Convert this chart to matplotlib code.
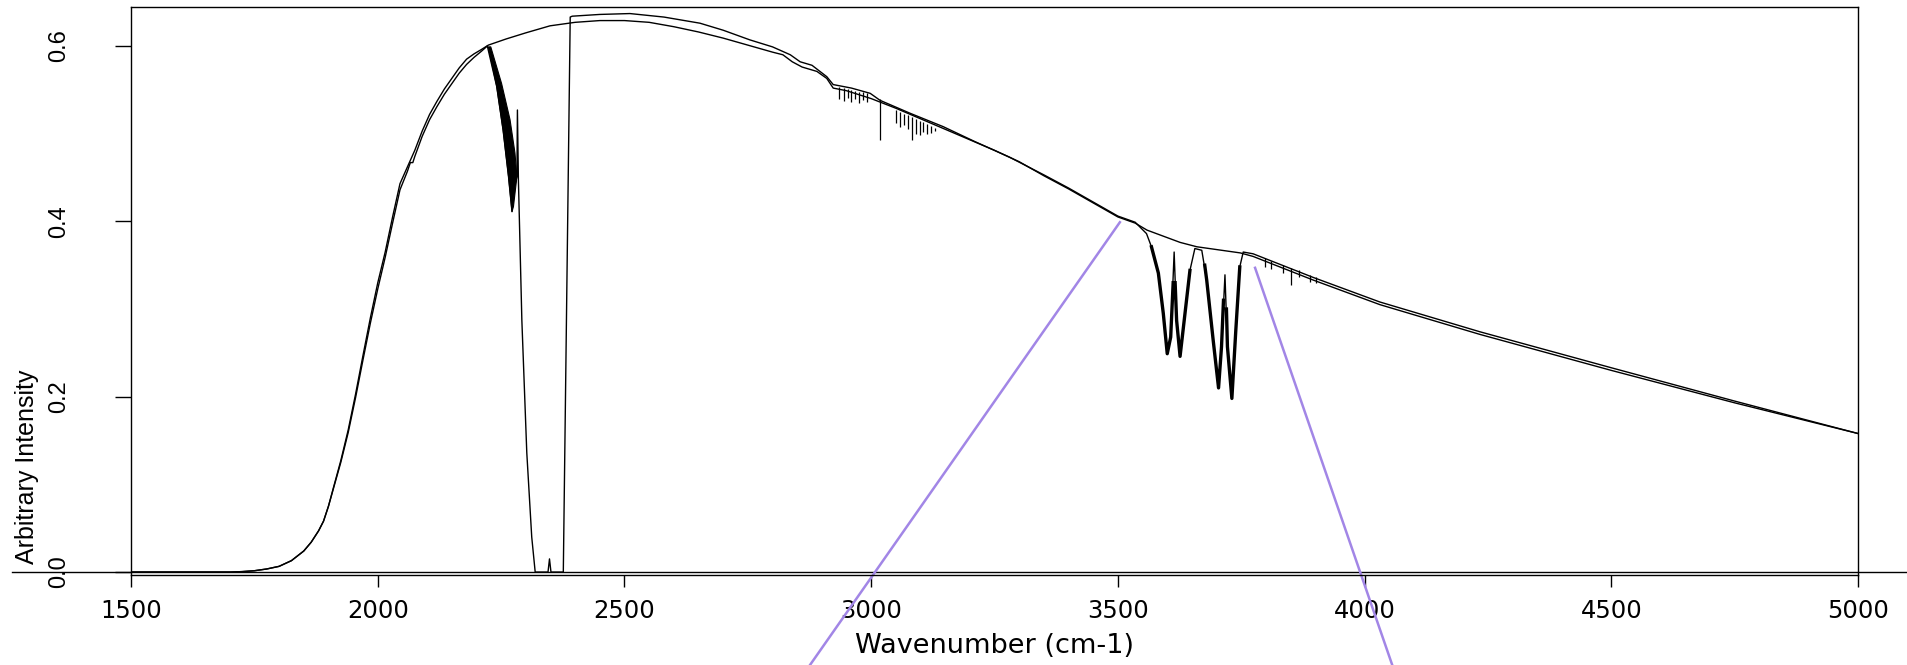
import numpy as np
import matplotlib
matplotlib.use('Agg')
import matplotlib.pyplot as plt

# smooth reference spectrum (no absorption)
ref_wn = [1500, 1700, 1725, 1750, 1775, 1800, 1825, 1850, 1865, 1880, 1890, 1900, 1910, 1925,
          1940, 1955, 1970, 1985, 2000, 2015, 2030, 2045, 2060, 2075, 2090, 2105,
          2120, 2135, 2150, 2165, 2180, 2195, 2210, 2224, 2260, 2300, 2349,
          2400, 2450, 2500, 2550, 2600, 2650, 2700, 2750, 2800, 2821, 2840, 2860,
          2890, 2910, 2923, 2950, 3000, 3050, 3100, 3150, 3200, 3250, 3300, 3350,
          3400, 3450, 3500, 3535, 3559, 3626, 3660, 3748, 3774, 3896, 4031, 4234,
          4500, 4750, 5000]
ref_int = [0.0, 0.0, 0.0005, 0.0015, 0.0035, 0.0065, 0.013, 0.024, 0.034, 0.047, 0.058, 0.075, 0.096, 0.127,
           0.162, 0.203, 0.247, 0.290, 0.330, 0.365, 0.405, 0.443, 0.462, 0.481, 0.503, 0.522,
           0.537, 0.551, 0.563, 0.575, 0.585, 0.591, 0.596, 0.601, 0.608, 0.615, 0.623,
           0.627, 0.629, 0.629, 0.627, 0.622, 0.616, 0.609, 0.601, 0.593, 0.590, 0.582, 0.576,
           0.571, 0.563, 0.552, 0.549, 0.540, 0.529, 0.517, 0.505, 0.493, 0.481, 0.468, 0.452,
           0.437, 0.421, 0.405, 0.398, 0.390, 0.376, 0.371, 0.364, 0.360, 0.333, 0.305, 0.271,
           0.230, 0.193, 0.158]

# measured spectrum
meas_wn = [1500, 1700, 1725, 1750, 1775, 1800, 1825, 1850, 1865, 1880, 1890, 1900, 1910, 1925,
           1940, 1955, 1970, 1985, 2000, 2015, 2030, 2045, 2060, 2066, 2071, 2075, 2090,
           2105, 2120, 2135, 2150, 2165, 2180, 2195, 2210, 2222,
           2241, 2254, 2265, 2272, 2277, 2282, 2283, 2285, 2292, 2302, 2312, 2319,
           2345, 2348, 2351, 2376, 2390, 2394, 2450, 2511, 2580, 2653, 2700, 2754,
           2800, 2836, 2856, 2880, 2910, 2923, 2960, 2998, 3018, 3080, 3146, 3210,
           3281, 3350, 3400, 3500, 3535, 3558,
           3568, 3582, 3592, 3600, 3607, 3614, 3619, 3626, 3636, 3646, 3656, 3670,
           3680, 3693, 3704, 3710, 3717, 3722, 3731, 3739, 3747, 3754,
           3774, 3896, 4031, 4234, 4500, 4750, 5000]
meas_int = [0.0, 0.0, 0.0005, 0.0015, 0.0035, 0.0065, 0.013, 0.024, 0.034, 0.047, 0.058, 0.075, 0.095, 0.125,
            0.159, 0.199, 0.242, 0.284, 0.323, 0.359, 0.398, 0.436, 0.457, 0.467, 0.467, 0.474, 0.497,
            0.516, 0.531, 0.545, 0.557, 0.569, 0.579, 0.587, 0.594, 0.600,
            0.554, 0.504, 0.451, 0.411, 0.440, 0.451, 0.527, 0.447, 0.287, 0.136, 0.040, 0.0,
            0.0, 0.015, 0.0, 0.0, 0.633, 0.634, 0.636, 0.637, 0.633, 0.626, 0.618, 0.607,
            0.599, 0.590, 0.582, 0.578, 0.565, 0.556, 0.552, 0.546, 0.538, 0.523, 0.508, 0.491,
            0.473, 0.453, 0.438, 0.406, 0.399, 0.386,
            0.371, 0.341, 0.295, 0.249, 0.268, 0.365, 0.287, 0.246, 0.295, 0.344, 0.369, 0.367,
            0.333, 0.265, 0.210, 0.257, 0.339, 0.257, 0.198, 0.276, 0.348, 0.365,
            0.363, 0.336, 0.308, 0.274, 0.233, 0.195, 0.158]

# dense CO2 band (dark wedge outline)
co2_wn = [2224, 2241, 2254, 2265, 2272, 2275, 2282, 2278, 2268, 2251, 2229]
co2_int = [0.599, 0.554, 0.504, 0.451, 0.411, 0.417, 0.451, 0.478, 0.516, 0.557, 0.599]

# dense water dips (heavy strokes)
h2o_wn = [3568, 3582, 3592, 3600, 3607, 3612, np.nan,
          3616, 3619, 3626, 3636, 3646, np.nan,
          3676, 3680, 3693, 3704, 3710, 3714, np.nan,
          3720, 3722, 3731, 3739, 3747]
h2o_int = [0.371, 0.341, 0.295, 0.249, 0.268, 0.330, np.nan,
           0.330, 0.287, 0.246, 0.295, 0.344, np.nan,
           0.350, 0.333, 0.265, 0.210, 0.257, 0.310, np.nan,
           0.300, 0.257, 0.198, 0.276, 0.348]

# fine absorption lines
line_wn = [2935, 2944, 2952, 2960, 2968, 2976, 2984, 2992,
           3018,
           3050, 3058, 3066, 3074, 3082, 3090, 3098, 3106, 3114, 3122, 3130,
           3798, 3811, 3835, 3851, 3868, 3889, 3902]
line_top = [0.553, 0.552, 0.551, 0.550, 0.549, 0.548, 0.547, 0.546,
            0.540,
            0.527, 0.525, 0.523, 0.521, 0.519, 0.517, 0.515, 0.513, 0.511, 0.509, 0.507,
            0.358, 0.355, 0.350, 0.347, 0.344, 0.339, 0.337]
line_low = [0.540, 0.537, 0.541, 0.536, 0.539, 0.535, 0.538, 0.536,
            0.493,
            0.512, 0.508, 0.510, 0.505, 0.493, 0.500, 0.499, 0.502, 0.500, 0.501, 0.503,
            0.348, 0.346, 0.341, 0.327, 0.336, 0.331, 0.330]

# zoom guide lines (purple)
guide1_wn = [3504, 2876]
guide1_int = [0.399, -0.106]
guide2_wn = [3778, 4056]
guide2_int = [0.347, -0.106]

xticks = [1500, 2000, 2500, 3000, 3500, 4000, 4500, 5000]
yticks = [0.0, 0.2, 0.4, 0.6]
ytick_labels = ['0.0', '0.2', '0.4', '0.6']

fig = plt.figure(figsize=(19.08, 6.65), dpi=100)
ax = fig.add_axes([0.0687, 0.1353, 0.9051, 0.8542])

ax.plot(ref_wn, ref_int, color='black', lw=1.0)
ax.plot(meas_wn, meas_int, color='black', lw=1.0)
ax.fill(co2_wn, co2_int, color='black', lw=0.8)
ax.plot(h2o_wn, h2o_int, color='black', lw=2.4)
ax.vlines(line_wn, line_low, line_top, color='black', lw=0.9)

# long zero line running across the whole figure
ax.plot([-0.069, 1.03], [0, 0], transform=ax.get_yaxis_transform(),
        color='black', lw=1.0, clip_on=False)

ax.plot(guide1_wn, guide1_int, color='#a286e6', lw=1.8, clip_on=False)
ax.plot(guide2_wn, guide2_int, color='#a286e6', lw=1.8, clip_on=False)

ax.set_xlim(1500, 5000)
ax.set_ylim(-0.0034, 0.6445)

ax.set_xticks(xticks)
ax.set_xticklabels([str(v) for v in xticks], family='DejaVu Sans', fontsize=17.5)
ax.set_yticks(yticks)
ax.set_yticklabels(ytick_labels, family='Liberation Sans', fontsize=17)
plt.setp(ax.get_yticklabels(), rotation=90, ha='center', va='center')
ax.tick_params(axis='x', direction='out', length=8.6, width=1.0, pad=9)
ax.tick_params(axis='y', direction='out', length=11.8, width=1.0, pad=40)

ax.set_xlabel('Wavenumber (cm-1)', family='DejaVu Sans', fontsize=19.5)
ax.xaxis.set_label_coords(0.5, -0.125)
ax.xaxis.label.set_verticalalignment('center')
ax.set_ylabel('Arbitrary Intensity', family='Liberation Sans', fontsize=18)
ax.yaxis.set_label_coords(-0.0602, 0.19)
ax.yaxis.label.set_verticalalignment('center')

for s in ax.spines.values():
    s.set_linewidth(1.0)

fig.savefig('out.png', dpi=100)
